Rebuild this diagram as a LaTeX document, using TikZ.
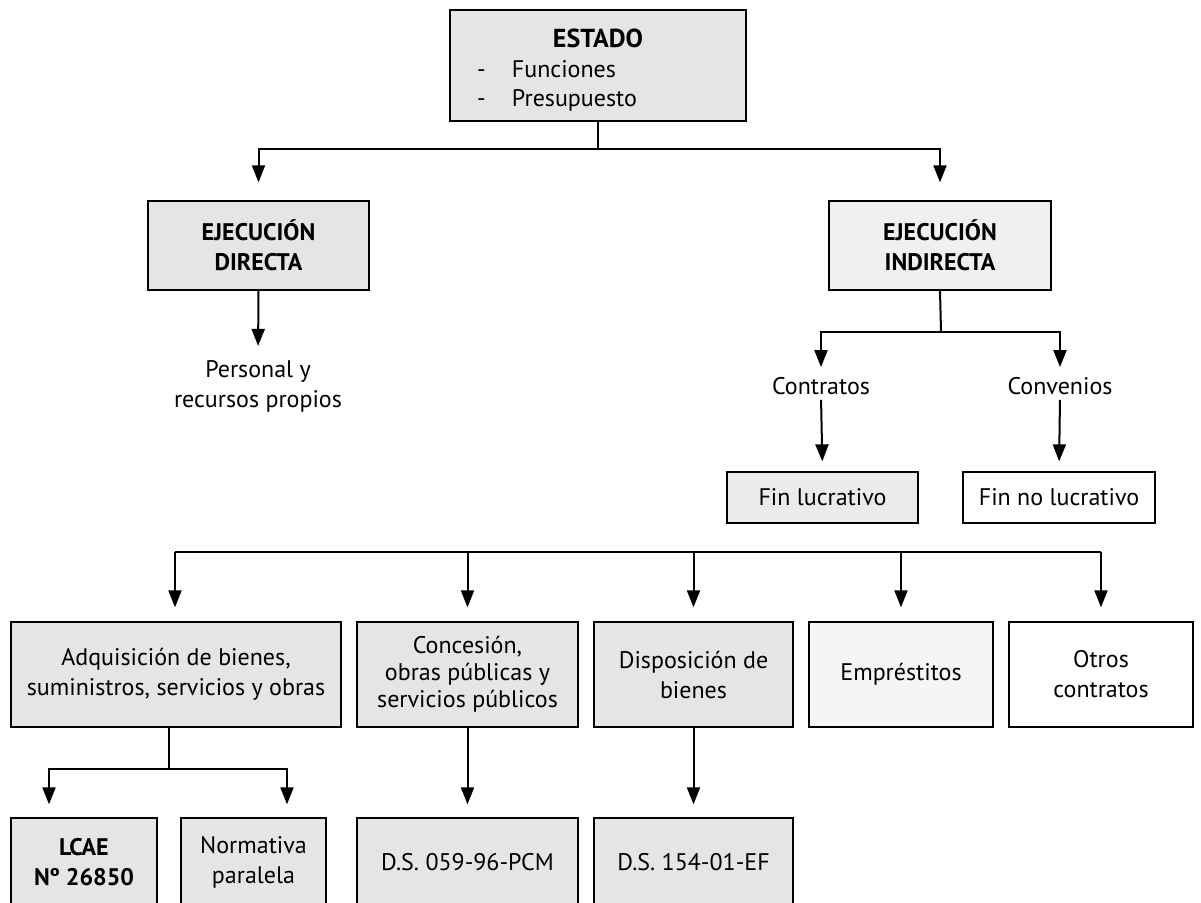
\documentclass[tikz,border=0pt]{standalone}
\usepackage{fontspec}
\setmainfont{PT Sans}
\usetikzlibrary{arrows.meta,calc}
\begin{document}
\begin{tikzpicture}[x=1pt,y=-1pt,
  every node/.style={font=\fontsize{24}{30}\selectfont},
  box/.style={draw=black,line width=1.3pt,fill=black!10,align=center,inner sep=4pt},
  plain/.style={align=center,inner sep=2pt},
  link/.style={line width=2pt,black},
  arr/.style={link,-{Triangle[length=17pt,width=13pt]}},
]
\useasboundingbox (0,0) rectangle (1201,902);
\clip (0,0) rectangle (1201,902);
\fill[white] (0,0) rectangle (1201,902);

% nodes
\node[box,minimum width=296pt,minimum height=111pt,text width=280pt,align=left] (estado) at (598,65.5)
  {\rule{0pt}{28pt}\makebox[\linewidth]{\fontsize{26}{30}\selectfont\textbf{ESTADO}}\\\hspace*{19pt}\makebox[35pt][l]{-}Funciones\\[-1pt]\hspace*{19pt}\makebox[35pt][l]{-}Presupuesto};
\node[box,minimum width=221pt,minimum height=89pt] (dir) at (258.5,245.5) {\textbf{EJECUCIÓN}\\\textbf{DIRECTA}};
\node[box,fill=black!6,minimum width=222pt,minimum height=89pt] (ind) at (940,245.5) {\textbf{EJECUCIÓN}\\\textbf{INDIRECTA}};
\node[plain] (pers) at (258,386) {Personal y\\recursos propios};
\node[plain] (contr) at (821,386) {Contratos};
\node[plain] (conv) at (1060,386) {Convenios};
\node[box,fill=black!8,minimum width=191pt,minimum height=51pt] (finl) at (822.5,497.5) {Fin lucrativo};
\node[box,fill=white,minimum width=192pt,minimum height=51pt] (finnl) at (1059,497.5) {Fin no lucrativo};

\node[box,minimum width=330pt,minimum height=105pt] (adq) at (176,674.5) {Adquisición de bienes,\\suministros, servicios y obras};
\node[box,minimum width=221pt,minimum height=105pt,font=\fontsize{24}{27}\selectfont] (con) at (467.5,674.5) {Concesión,\\obras públicas y\\servicios públicos};
\node[box,minimum width=199pt,minimum height=105pt] (dis) at (693.5,674.5) {Disposición de\\bienes};
\node[box,fill=black!4,minimum width=184pt,minimum height=105pt] (emp) at (901,674.5) {Empréstitos};
\node[box,fill=white,minimum width=184pt,minimum height=105pt] (otr) at (1101,674.5) {Otros\\contratos};

\node[box,minimum width=146pt,minimum height=88pt] (lcae) at (84,862) {\textbf{LCAE}\\\textbf{Nº 26850}};
\node[box,minimum width=145pt,minimum height=88pt] (norm) at (253.5,862) {Normativa\\paralela};
\node[box,minimum width=221pt,minimum height=88pt] (ds1) at (467.5,862) {D.S. 059-96-PCM};
\node[box,minimum width=199pt,minimum height=88pt] (ds2) at (693.5,862) {D.S. 154-01-EF};

% connectors
\coordinate (b1) at (598,149);
\draw[link] (estado.south) -- (b1);
\draw[arr,shorten >=18pt] (b1) -| (dir.north);
\draw[arr,shorten >=18pt] (b1) -| (ind.north);
\draw[arr,shorten >=12pt] (dir.south) -- (pers.north);

\coordinate (b2) at (941,332);
\draw[link] (ind.south) -- (b2);
\draw[arr,shorten >=8pt] (b2) -| (contr.north);
\draw[arr,shorten >=8pt] (b2) -| (conv.north);
\draw[arr,shorten <=3pt,shorten >=10pt] (contr.south) -- (finl.north);
\draw[arr,shorten <=3pt,shorten >=10pt] (conv.south) -- (finnl.north);

\coordinate (b3l) at (175,552);
\coordinate (b3r) at (1101,552);
\draw[link] (b3l) -- (b3r);
\draw[arr,shorten >=14pt] (b3l) -- (b3l|-adq.north);
\draw[arr,shorten >=14pt] (con.north|-b3l) -- (con.north);
\draw[arr,shorten >=14pt] (dis.north|-b3l) -- (dis.north);
\draw[arr,shorten >=14pt] (emp.north|-b3l) -- (emp.north);
\draw[arr,shorten >=14pt] (b3r) -- (otr.north);

\coordinate (b4) at (169,769);
\draw[link] (b4|-adq.south) -- (b4);
\draw[arr,shorten >=13pt] (b4) -| ([xshift=-35pt]lcae.north);
\draw[arr,shorten >=13pt] (b4) -| ([xshift=33.5pt]norm.north);
\draw[arr,shorten >=13pt] (con.south) -- (ds1.north);
\draw[arr,shorten >=13pt] (dis.south) -- (ds2.north);
\end{tikzpicture}
\end{document}
